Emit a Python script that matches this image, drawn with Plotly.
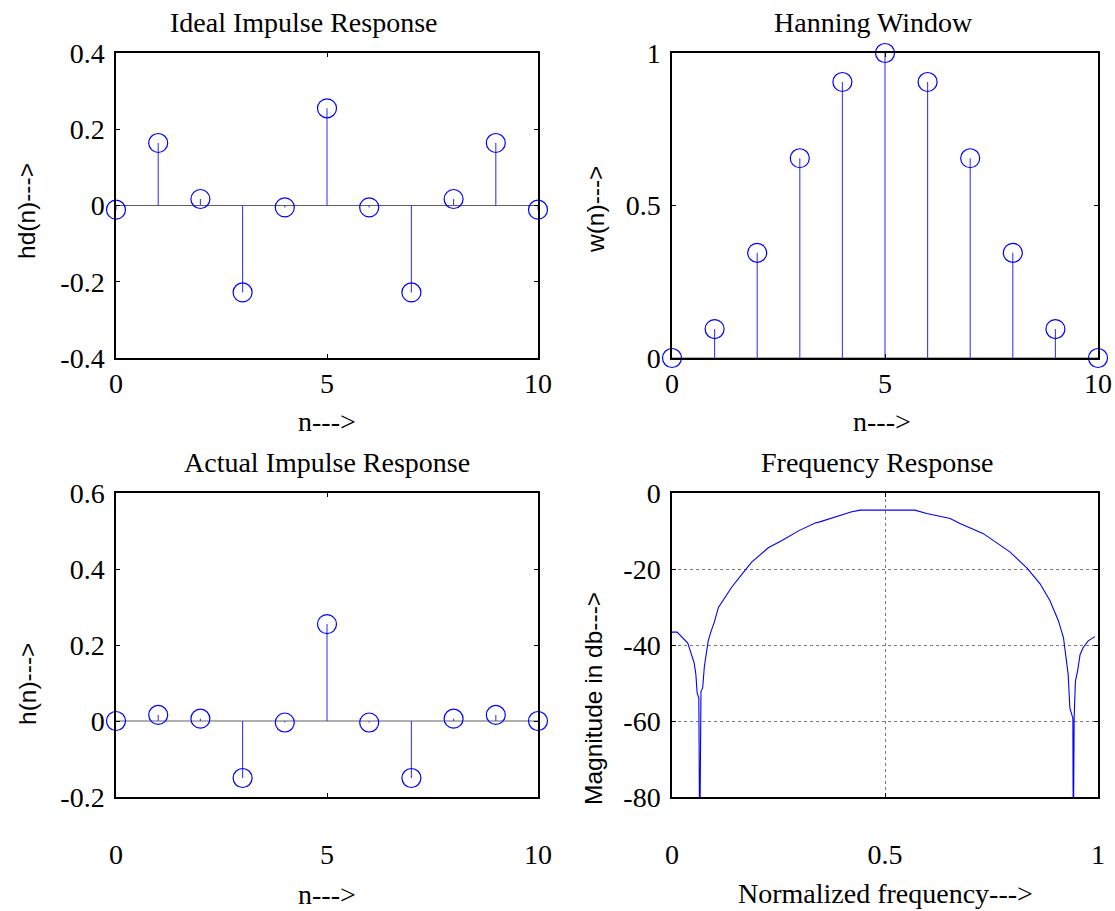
import plotly.graph_objects as go

# Sample index of the 11-tap filter
n = [0, 1, 2, 3, 4, 5, 6, 7, 8, 9, 10]

# Ideal (unwindowed) impulse response hd(n)
hd = [-0.011, 0.164, 0.017, -0.228, -0.005, 0.255, -0.005, -0.228, 0.017, 0.164, -0.011]

# Hanning window w(n)
w = [0.0, 0.095, 0.345, 0.655, 0.905, 1.0, 0.905, 0.655, 0.345, 0.095, 0.0]

# Windowed impulse response h(n)
h = [0.0, 0.016, 0.006, -0.15, -0.004, 0.255, -0.004, -0.15, 0.006, 0.016, 0.0]

# Magnitude response in dB against normalized frequency
freq = [0.000, 0.012, 0.037, 0.046, 0.052, 0.056, 0.059, 0.063, 0.065, 0.068,
        0.072, 0.076, 0.081, 0.085, 0.092, 0.099, 0.109, 0.124, 0.140, 0.162,
        0.187, 0.226, 0.258, 0.298, 0.336, 0.347, 0.394, 0.420, 0.441, 0.570,
        0.598, 0.653, 0.676, 0.731, 0.793, 0.833, 0.864, 0.887, 0.907, 0.919,
        0.925, 0.930, 0.934, 0.941, 0.942, 0.944, 0.947, 0.952, 0.958, 0.965,
        0.977, 0.993]
mag_db = [-36.6, -36.6, -39.5, -42.5, -44.7, -47.7, -52.6, -54.0, -95.0, -52.2,
          -51.3, -45.6, -41.6, -38.9, -36.3, -34.1, -30.1, -27.5, -24.8, -21.7,
          -18.2, -14.4, -12.5, -9.9, -7.9, -7.6, -5.8, -5.0, -4.5, -4.5,
          -5.4, -6.7, -8.0, -10.7, -15.5, -19.7, -23.9, -28.3, -33.6, -38.1,
          -43.4, -47.8, -56.6, -59.3, -95.0, -59.3, -49.5, -46.9, -42.5, -40.7,
          -38.9, -37.8]

W, H = 1115, 911
SERIF = "Liberation Serif, Times New Roman, serif"
SANS = "Liberation Sans, Arial, sans-serif"
BLUE = "#0000ff"
STEM = "#3a3aff"


def px_x(x):
    return x / W


def px_y(y):
    return 1 - y / H


fig = go.Figure()


def add_stem(values, xa, ya):
    sx, sy = [], []
    for k, v in zip(n, values):
        sx += [k, k, None]
        sy += [0, v, None]
    # baseline across the sample range
    fig.add_trace(go.Scatter(x=[min(n), max(n)], y=[0, 0], mode="lines",
                             line=dict(color="#606060", width=1.2),
                             xaxis=xa, yaxis=ya, hoverinfo="skip"))
    fig.add_trace(go.Scatter(x=sx, y=sy, mode="lines",
                             line=dict(color=STEM, width=1.1),
                             xaxis=xa, yaxis=ya, hoverinfo="skip"))
    fig.add_trace(go.Scatter(x=n, y=values, mode="markers", cliponaxis=False,
                             marker=dict(symbol="circle-open", size=19,
                                         color=BLUE, line=dict(width=1.2, color=BLUE)),
                             xaxis=xa, yaxis=ya))


add_stem(hd, "x", "y")
add_stem(w, "x2", "y2")
add_stem(h, "x3", "y3")

fig.add_trace(go.Scatter(x=freq, y=mag_db, mode="lines",
                         line=dict(color=BLUE, width=1.1),
                         xaxis="x4", yaxis="y4"))

left_dom = [px_x(116), px_x(538)]
right_dom = [px_x(672), px_x(1098)]
top_dom = [px_y(358), px_y(53)]
bot_dom = [px_y(797), px_y(493)]

axis_common = dict(
    showline=True, linecolor="black", linewidth=1.5, mirror="ticks",
    ticks="inside", ticklen=4, tickcolor="black", tickwidth=1.2,
    showgrid=False, zeroline=False, automargin=False,
    tickfont=dict(family=SERIF, size=28, color="black"),
)

stem_x = dict(axis_common, range=[0, 10], tickvals=[0, 5, 10])
y_common = dict(axis_common, ticklabelstandoff=4)

fig.update_layout(
    template="none",
    width=W, height=H,
    margin=dict(l=0, r=0, t=0, b=0, autoexpand=False),
    paper_bgcolor="white", plot_bgcolor="white",
    showlegend=False,
    xaxis=dict(stem_x, domain=left_dom, anchor="y"),
    yaxis=dict(y_common, domain=top_dom, anchor="x", range=[-0.4, 0.4],
               tickvals=[-0.4, -0.2, 0, 0.2, 0.4],
               ticktext=["-0.4", "-0.2", "0", "0.2", "0.4"]),
    xaxis2=dict(stem_x, domain=right_dom, anchor="y2"),
    yaxis2=dict(y_common, domain=top_dom, anchor="x2", range=[0, 1],
                tickvals=[0, 0.5, 1], ticktext=["0", "0.5", "1"]),
    xaxis3=dict(stem_x, domain=left_dom, anchor="y3", ticklabelstandoff=32),
    yaxis3=dict(y_common, domain=bot_dom, anchor="x3", range=[-0.2, 0.6],
                tickvals=[-0.2, 0, 0.2, 0.4, 0.6],
                ticktext=["-0.2", "0", "0.2", "0.4", "0.6"]),
    xaxis4=dict(axis_common, domain=right_dom, anchor="y4", range=[0, 1],
                tickvals=[0, 0.5, 1], ticktext=["0", "0.5", "1"],
                showgrid=True, gridcolor="#7a7a7a", griddash="dot", gridwidth=1,
                ticklabelstandoff=32),
    yaxis4=dict(y_common, domain=bot_dom, anchor="x4", range=[-80, 0],
                tickvals=[-80, -60, -40, -20, 0],
                ticktext=["-80", "-60", "-40", "-20", "0"],
                showgrid=True, gridcolor="#7a7a7a", griddash="dot", gridwidth=1),
)

# Panel titles and axis labels
labels = [
    ("Ideal Impulse Response", 304, 22, SERIF, 28, 0),
    ("Hanning Window", 873, 22, SERIF, 28, 0),
    ("Actual Impulse Response", 327, 462, SERIF, 28, 0),
    ("Frequency Response", 877, 462, SERIF, 28, 0),
    ("n--->", 327, 421, SERIF, 28, 0),
    ("n--->", 882, 421, SERIF, 28, 0),
    ("n--->", 327, 894, SERIF, 28, 0),
    ("Normalized frequency--->", 885, 893, SERIF, 28, 0),
    ("hd(n)--->", 27, 211, SANS, 24.5, -90),
    ("w(n)--->", 595, 210, SANS, 24.5, -90),
    ("h(n)--->", 27, 684, SANS, 24.5, -90),
    ("Magnitude in db--->", 593, 699, SANS, 24.5, -90),
]
for text, x, y, fam, size, ang in labels:
    fig.add_annotation(text=text, x=px_x(x), y=px_y(y), xref="paper", yref="paper",
                       xanchor="center", yanchor="middle", showarrow=False,
                       textangle=ang, font=dict(family=fam, size=size, color="black"))

fig.write_html("out.html")
